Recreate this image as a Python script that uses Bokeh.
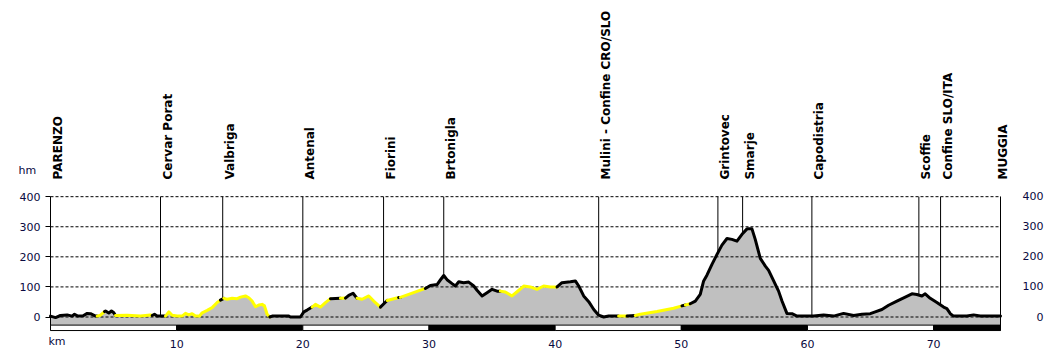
import numpy as np
from bokeh.plotting import figure
from bokeh.models import Range1d, LinearAxis, FixedTicker, ColumnDataSource
from bokeh.core.properties import value
from bokeh.embed import file_html
from bokeh.resources import INLINE

# ---------------- data ----------------
KM = [0.0, 0.4, 0.79, 1.32, 1.72, 1.9, 2.17, 2.59, 2.91, 3.17, 3.57, 3.7, 3.96, 4.28, 4.36, 4.62, 4.83, 5.02,
      5.15, 6.08, 7.13, 7.92, 8.06, 8.24, 8.45, 8.98, 9.11, 9.38, 9.64, 10.04, 10.43, 10.7, 10.96, 11.22, 11.49,
      11.81, 12.02, 12.42, 12.81, 13.21, 13.47, 13.74, 14.0, 14.4, 14.79, 15.06, 15.45, 15.72, 15.98, 16.25,
      16.51, 16.77, 16.96, 17.17, 17.38, 17.57, 18.89, 19.02, 19.81, 20.08, 20.34, 20.74, 21.0, 21.4, 21.79,
      22.19, 22.98, 23.38, 23.64, 23.98, 24.3, 24.7, 25.23, 25.62, 26.15, 26.68, 27.6, 27.73, 29.71, 30.11,
      30.64, 30.9, 31.17, 31.43, 31.83, 32.09, 32.36, 32.75, 33.15, 33.55, 33.81, 34.21, 34.6, 35.0, 35.4,
      35.66, 36.05, 36.58, 36.98, 37.51, 38.03, 38.56, 39.09, 39.62, 40.15, 40.54, 41.21, 41.6, 41.87, 42.26,
      42.66, 43.06, 43.45, 43.85, 44.24, 45.03, 45.7, 46.35, 46.75, 48.07, 49.39, 50.05, 50.32, 50.71, 51.11,
      51.5, 51.77, 52.03, 52.43, 52.83, 53.22, 53.62, 54.01, 54.41, 54.81, 55.21, 55.6, 55.86, 56.26, 56.66,
      56.92, 57.32, 57.71, 57.98, 58.37, 58.77, 59.17, 60.49, 61.28, 62.07, 62.86, 63.66, 64.32, 64.98, 65.37,
      65.9, 66.43, 67.09, 67.75, 68.28, 68.67, 69.07, 69.33, 69.73, 70.26, 70.79, 71.05, 71.32, 71.58, 72.64,
      73.17, 73.69, 75.3]
ELEV = [3, -2, 5, 7, 3, 9, 3, 4, 12, 11, 3, 3, 6, 18, 20, 13, 20, 14,
        5, 6, 3, 7, 5, 9, 3, 3, 3, 17, 6, 3, 3, 12, 7, 11, 3,
        3, 14, 22, 31, 48, 56, 62, 59, 62, 61, 66, 70, 64, 53, 34,
        40, 42, 37, 9, 0, 3, 3, 0, 0, 17, 23, 33, 42, 33, 48,
        61, 62, 63, 72, 79, 62, 59, 70, 53, 33, 55, 65, 65, 95, 105,
        108, 123, 138, 124, 111, 103, 117, 114, 116, 103, 89, 70, 81, 92, 86,
        86, 83, 70, 84, 103, 100, 92, 103, 100, 100, 114, 117, 120, 103, 70,
        51, 25, 6, 0, 3, 3, 3, 5, 9, 18, 29, 37, 40, 44, 53,
        75, 120, 139, 175, 208, 239, 261, 258, 252, 275, 293, 293, 258, 195, 169,
        155, 120, 86, 53, 12, 11, 3, 3, 7, 3, 12, 5, 9, 11, 17,
        25, 39, 53, 66, 77, 75, 70, 77, 62, 48, 33, 28, 11, 3, 3,
        7, 3, 3]
# surface of the stretch starting at each point: B = black, Y = yellow
SURF = list("BBBBBBBBBBBYYBBBBB"
            "YYYYBBBBYYYYYYYYY"
            "YYYYYBYYYYYYYYY"
            "YYYYBBBBBBBYYYY"
            "BYBBBYYYYBYBYBB"
            "BBBBBBBBBBBBBBB"
            "YYYYYYYYYBBBBBB"
            "BBBBBYBYYYYBYBB"
            "BBBBBBBBBBBBBBB"
            "BBBBBBBBBBBBBBB"
            "BBBBBBBBBBBBBBB"
            "BBB")

PLACES = ["PARENZO", "Cervar Porat", "Valbriga", "Antenal", "Fiorini", "Brtonigla",
          "Mulini - Confine CRO/SLO", "Grintovec", "Smarje", "Capodistria", "Scoffie",
          "Confine SLO/ITA", "MUGGIA"]
PLACE_KM = [0.0, 8.72, 13.65, 20.0, 26.4, 31.17, 43.45, 52.9, 54.86, 60.35, 68.83, 70.55, 75.3]
PLACE_DX = [0, 0, 0, 0, 0, 0, 0, 0, 0, 0, 0, 0, -5]

Y_TICKS = [0, 100, 200, 300, 400]
X_TICKS = [10, 20, 30, 40, 50, 60, 70]
KM_MAX = 75.3
Y_UNIT = "hm"
X_UNIT = "km"

# ---------------- layout constants ----------------
W, H = 1050, 351
PX_PER_KM = 950 / KM_MAX
PX_PER_M = 30.08 / 100
X0_PX = 50          # screen x of km 0
Y0_PX = 316.5       # screen y of elevation 0
Y_MIN = -45
BAR_TOP = -27
LABEL_Y = 457
TICK_COLOR = "#0a0a40"
FONT = "DejaVu Sans"

x_start = -X0_PX / PX_PER_KM
x_end = x_start + W / PX_PER_KM
y_end = Y0_PX / PX_PER_M
y_start = y_end - H / PX_PER_M

p = figure(width=W, height=H, output_backend="svg", toolbar_location=None,
           x_range=Range1d(x_start, x_end), y_range=Range1d(y_start, y_end),
           min_border=0, x_axis_type=None, y_axis_type=None)
p.outline_line_color = None
p.xgrid.visible = False
p.ygrid.visible = False
p.background_fill_color = "white"
p.border_fill_color = "white"

# gray area
p.varea(x=KM, y1=[BAR_TOP] * len(KM), y2=ELEV, fill_color="#C0C0C0")

# dashed grid lines
p.segment(x0=[0] * len(Y_TICKS), x1=[KM_MAX] * len(Y_TICKS), y0=Y_TICKS, y1=Y_TICKS,
          line_color="black", line_width=1, line_dash="3 2")

# vertical marker lines
place_elev = np.interp(PLACE_KM, KM, ELEV)
p.segment(x0=PLACE_KM, x1=PLACE_KM, y0=place_elev, y1=[Y_TICKS[-1]] * len(PLACE_KM),
          line_color="black", line_width=1)

# frame side lines
p.segment(x0=[0, KM_MAX], x1=[0, KM_MAX], y0=[Y_MIN, Y_MIN], y1=[Y_TICKS[-1]] * 2,
          line_color="black", line_width=1)

# profile line, split into runs
runs = []
start = 0
for i in range(1, len(KM)):
    if i == len(KM) - 1 or SURF[i] != SURF[start]:
        runs.append((start, i, SURF[start]))
        start = i
xs = [KM[a:b + 1] for a, b, s in runs]
ys = [ELEV[a:b + 1] for a, b, s in runs]
cols = ["#FFFF00" if s == "Y" else "black" for a, b, s in runs]
p.multi_line(xs=xs, ys=ys, line_color=cols, line_width=3, line_join="round", line_cap="round")

# scale bar
lefts = [0] + X_TICKS
rights = X_TICKS + [KM_MAX]
bar_cols = ["white" if i % 2 == 0 else "black" for i in range(len(lefts))]
p.quad(left=lefts, right=rights, bottom=[Y_MIN] * len(lefts), top=[BAR_TOP] * len(lefts),
       fill_color=bar_cols, line_color="black", line_width=1)

# place names
src = ColumnDataSource(dict(x=PLACE_KM, y=[LABEL_Y] * len(PLACES), t=PLACES, dx=PLACE_DX))
p.text(x="x", y="y", text="t", x_offset="dx", source=src, angle=np.pi / 2,
       text_align="left", text_baseline="top", text_font=value(FONT),
       text_font_style="bold", text_font_size="12px", text_color="black")

# unit labels
p.text(x=[0], y=[Y_TICKS[-1]], text=[Y_UNIT], x_offset=-32, y_offset=-26,
       text_align="left", text_baseline="alphabetic", text_font=value(FONT),
       text_font_size="11px", text_color=TICK_COLOR)
p.text(x=[0], y=[Y_MIN], text=[X_UNIT], x_offset=-2, y_offset=4,
       text_align="left", text_baseline="top", text_font=value(FONT),
       text_font_size="11px", text_color=TICK_COLOR)

# axes (fixed inside the full-canvas frame)
xa = LinearAxis(ticker=FixedTicker(ticks=X_TICKS), fixed_location=Y_MIN)
xa.axis_line_color = None
xa.major_tick_line_color = None
xa.minor_tick_line_color = None
xa.major_label_standoff = 3
xa.major_label_text_font = FONT
xa.major_label_text_font_size = "11px"
xa.major_label_text_color = TICK_COLOR
p.add_layout(xa, "below")

ya = LinearAxis(ticker=FixedTicker(ticks=Y_TICKS), fixed_location=0)
ya.axis_line_color = None
ya.major_tick_out = 5
ya.major_tick_in = 0
ya.major_tick_line_color = "black"
ya.minor_tick_line_color = None
ya.major_label_standoff = 5
ya.major_label_text_font = FONT
ya.major_label_text_font_size = "11px"
ya.major_label_text_color = TICK_COLOR
p.add_layout(ya, "left")

ya2 = LinearAxis(ticker=FixedTicker(ticks=Y_TICKS), fixed_location=KM_MAX)
ya2.axis_line_color = None
ya2.major_tick_line_color = None
ya2.minor_tick_line_color = None
ya2.major_label_standoff = 16
ya2.major_label_text_font = FONT
ya2.major_label_text_font_size = "11px"
ya2.major_label_text_color = TICK_COLOR
width = max(len(str(t)) for t in Y_TICKS)
ya2.major_label_overrides = {t: "\u2007" * (width - len(str(t))) + str(t) for t in Y_TICKS}
p.add_layout(ya2, "right")

open("out.html", "w").write(file_html(p, INLINE))
